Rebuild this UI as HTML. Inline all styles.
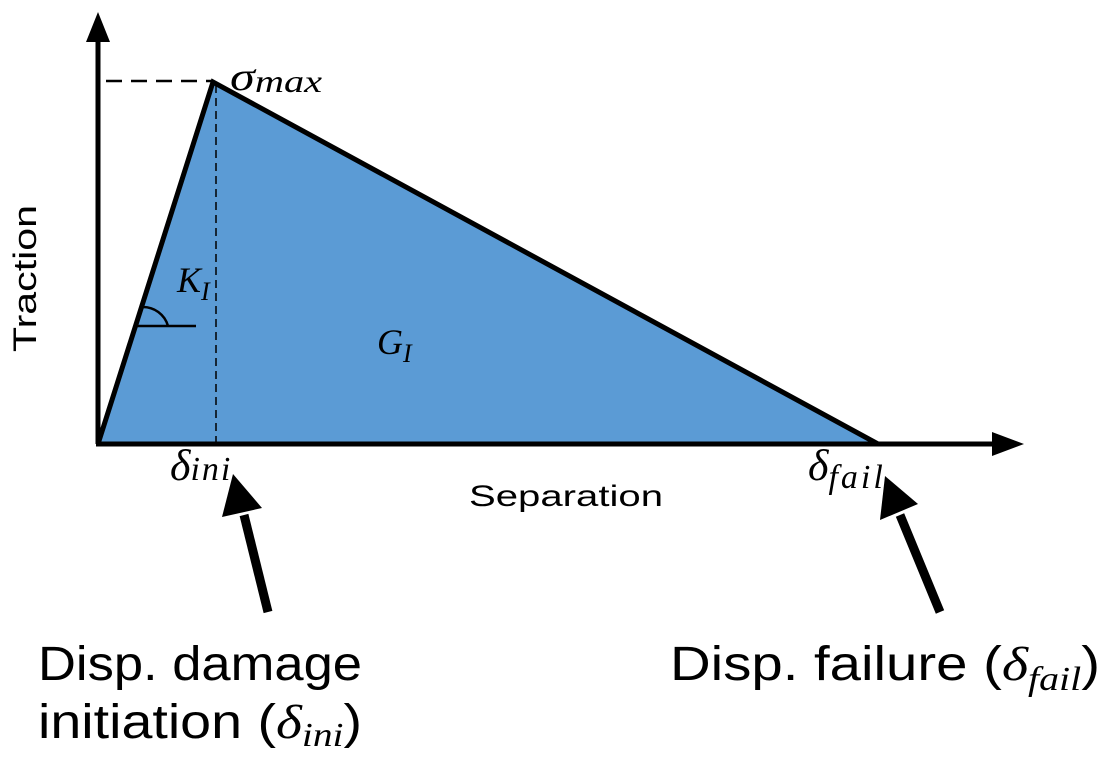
<!DOCTYPE html>
<html><head><style>body{margin:0;background:#fff}</style></head><body>
<svg width="1102" height="753" viewBox="0 0 1102 753" xmlns="http://www.w3.org/2000/svg">
<polygon points="98,444 213,82 878,444" fill="#5B9BD5"/>
<line x1="98" y1="444" x2="98" y2="40" stroke="#000" stroke-width="5"/>
<polygon points="86,42 110,42 98,12" fill="#000"/>
<line x1="96" y1="444" x2="995" y2="444" stroke="#000" stroke-width="5"/>
<polygon points="992,432 992,456 1024,444" fill="#000"/>
<polyline points="98,444 213,82 878,444" fill="none" stroke="#000" stroke-width="5" stroke-linejoin="miter"/>
<line x1="106" y1="81" x2="212" y2="81" stroke="#000" stroke-width="2.5" stroke-dasharray="16,9"/>
<line x1="216" y1="85" x2="216" y2="444" stroke="#000" stroke-width="1.5" stroke-dasharray="8,5"/>
<line x1="136" y1="326" x2="196" y2="326" stroke="#000" stroke-width="2.5"/>
<path d="M142,307 A26,26 0 0 1 168,326" fill="none" stroke="#000" stroke-width="2.5"/>
<g font-family="Liberation Serif, serif" font-style="italic" fill="#000">
<text x="230" y="90" font-size="40" textLength="92" lengthAdjust="spacingAndGlyphs">σ<tspan font-size="32" dy="2">max</tspan></text>
<text x="177" y="292" font-size="36">K<tspan font-size="26" dy="8">I</tspan></text>
<text x="377" y="354" font-size="36">G<tspan font-size="26" dy="8">I</tspan></text>
<text x="170" y="480" font-size="44">δ<tspan font-size="34" dy="0" letter-spacing="2">ini</tspan></text>
<text x="808" y="480" font-size="44">δ<tspan font-size="34" dy="8" letter-spacing="3">fail</tspan></text>
</g>
<g font-family="Liberation Sans, sans-serif" fill="#000">
<text x="469" y="506" font-size="30" textLength="194" lengthAdjust="spacingAndGlyphs">Separation</text>
<text transform="translate(36,352) rotate(-90)" font-size="32" textLength="147" lengthAdjust="spacingAndGlyphs">Traction</text>
<text x="38" y="680" font-size="48" textLength="324" lengthAdjust="spacingAndGlyphs">Disp. damage</text>
<text x="38" y="738" font-size="48" textLength="324" lengthAdjust="spacingAndGlyphs">initiation (<tspan font-family="Liberation Serif, serif" font-style="italic">δ</tspan><tspan font-family="Liberation Serif, serif" font-style="italic" font-size="34" dy="8">ini</tspan><tspan dy="-8">)</tspan></text>
<text x="670" y="680" font-size="48" textLength="430" lengthAdjust="spacingAndGlyphs">Disp. failure (<tspan font-family="Liberation Serif, serif" font-style="italic">δ</tspan><tspan font-family="Liberation Serif, serif" font-style="italic" font-size="34" dy="10">fail</tspan><tspan dy="-10">)</tspan></text>
</g>
<line x1="268" y1="612" x2="244" y2="515" stroke="#000" stroke-width="9"/>
<polygon points="233,474 222,517 262,508" fill="#000"/>
<line x1="940" y1="612" x2="900" y2="515" stroke="#000" stroke-width="9"/>
<polygon points="885,476 880,520 918,504" fill="#000"/>
</svg>
</body></html>
